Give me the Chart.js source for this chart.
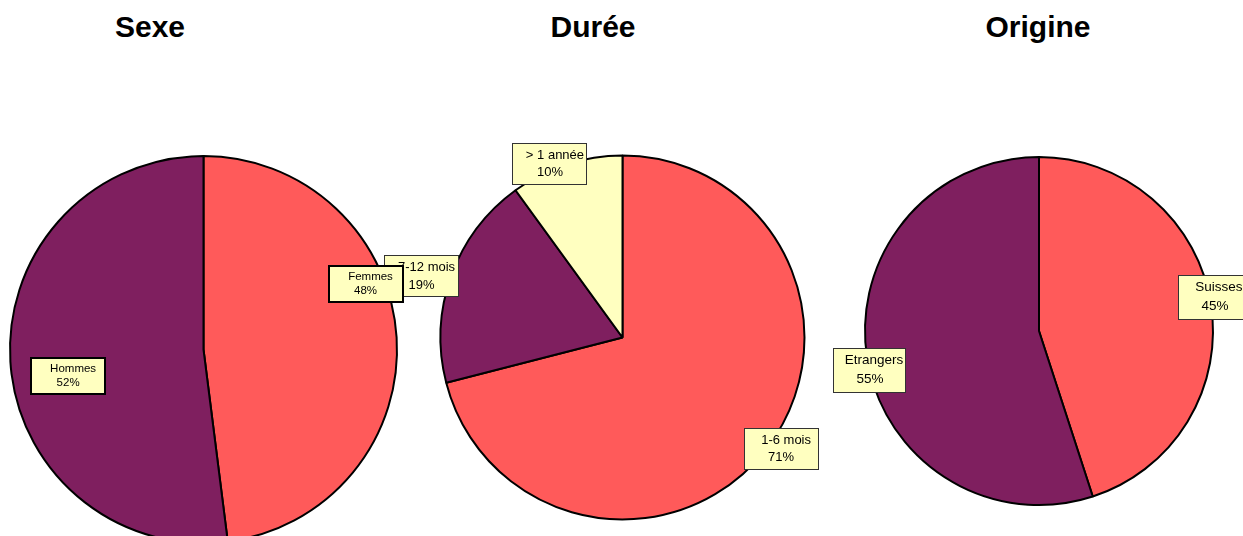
<!DOCTYPE html>
<html>
    <head>
        <title>Sexe - Durée - Origine</title>
        <meta charset="UTF-8" />
        <script src="https://cdn.jsdelivr.net/npm/chart.js"></script>
        <style>
            html, body { margin: 0; padding: 0; background: #fff; overflow: hidden; width: 1243px; height: 536px; }
            .titre { position: absolute; top: 10px; font: bold 30px "Liberation Sans", Arial, sans-serif; color: #000; transform: translateX(-50%); white-space: nowrap; }
            canvas { position: absolute; left: 0; top: 0; }
        </style>
    </head>
    <body>
        <div class="titre" style="left:150px">Sexe</div>
        <div class="titre" style="left:593px">Durée</div>
        <div class="titre" style="left:1038px">Origine</div>

        <canvas id="chartDuree" width="1243" height="560"></canvas>
        <canvas id="chartOrigine" width="1243" height="560"></canvas>
        <canvas id="chartSexe" width="1243" height="560"></canvas>
        <script>
            // données
            const sexeLabels = ['Femmes', 'Hommes'];
            const sexeValues = [48, 52];
            const dureeLabels = ['1-6 mois', '7-12 mois', '> 1 année'];
            const dureeValues = [71, 19, 10];
            const origineLabels = ['Suisses', 'Etrangers'];
            const origineValues = [45, 55];

            const ROUGE = '#FF5A5A';
            const VIOLET = '#7F1F5F';
            const JAUNE = '#FFFFC0';

            // étiquettes encadrées (position par rapport au secteur)
            const etiquettes = {
                id: 'etiquettes',
                afterDatasetsDraw(chart, args, opts) {
                    const ctx = chart.ctx;
                    const ds = chart.data.datasets[0];
                    const total = ds.data.reduce((a, b) => a + b, 0);
                    chart.getDatasetMeta(0).data.forEach(function(arc, i) {
                        const p = arc.getProps(['x', 'y', 'startAngle', 'endAngle', 'outerRadius'], true);
                        const a = (p.startAngle + p.endAngle) / 2 + opts.shift[i] * Math.PI / 180;
                        const cx = p.x + Math.cos(a) * p.outerRadius * opts.dist[i];
                        const cy = p.y + Math.sin(a) * p.outerRadius * opts.dist[i];
                        const x0 = Math.round(cx - opts.w / 2), y0 = Math.round(cy - opts.h / 2);
                        ctx.save();
                        ctx.fillStyle = JAUNE;
                        ctx.fillRect(x0, y0, opts.w, opts.h);
                        ctx.lineWidth = opts.bord;
                        ctx.strokeStyle = opts.bordCouleur;
                        ctx.strokeRect(x0 + opts.bord / 2, y0 + opts.bord / 2, opts.w - opts.bord, opts.h - opts.bord);
                        ctx.fillStyle = '#000';
                        ctx.font = opts.taille + 'px "Liberation Sans", Arial, sans-serif';
                        ctx.textAlign = 'center';
                        ctx.textBaseline = 'middle';
                        const pct = Math.round(ds.data[i] / total * 100) + '%';
                        ctx.fillText(chart.data.labels[i], cx + opts.decal, cy - opts.interligne / 2);
                        ctx.fillText(pct, cx, cy + opts.interligne / 2);
                        ctx.restore();
                    });
                }
            };

            function camembert(id, labels, values, couleurs, padding, etiq) {
                return new Chart(document.getElementById(id), {
                    type: 'pie',
                    data: {
                        labels: labels,
                        datasets: [{
                            data: values,
                            backgroundColor: couleurs,
                            borderColor: '#000',
                            borderWidth: 2,
                            hoverOffset: 0
                        }]
                    },
                    options: {
                        responsive: false,
                        animation: false,
                        layout: { padding: padding },
                        plugins: {
                            legend: { display: false },
                            tooltip: { enabled: false },
                            etiquettes: etiq
                        }
                    },
                    plugins: [etiquettes]
                });
            }

            camembert('chartDuree', dureeLabels, dureeValues, [ROUGE, VIOLET, JAUNE],
                { left: 439.5, top: 154.5, right: 437.5, bottom: 39.5 },
                { dist: [1.065, 1.154, 1.033], shift: [-2.7, -2.9, -4.7], w: 75, h: 42, taille: 13, interligne: 17.5, decal: 5, bord: 1, bordCouleur: '#333' });

            camembert('chartOrigine', origineLabels, origineValues, [ROUGE, VIOLET],
                { left: 864, top: 156, right: 29, bottom: 54 },
                { dist: [1.03, 0.997], shift: [-1.9, -4], w: 73, h: 45, taille: 13.5, interligne: 19, decal: 4, bord: 1, bordCouleur: '#333' });

            camembert('chartSexe', sexeLabels, sexeValues, [ROUGE, VIOLET],
                { left: 9, top: 155, right: 845, bottom: 16 },
                { dist: [0.903, 0.713], shift: [-18.4, -7.5], w: 76, h: 38, taille: 11.5, interligne: 14, decal: 5, bord: 2, bordCouleur: '#000' });
        </script>
    </body>
</html>
